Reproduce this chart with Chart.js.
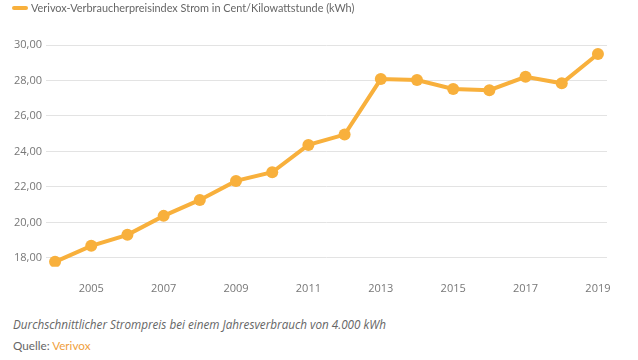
<!DOCTYPE html>
<html>
<head>
<meta charset="utf-8">
<script src="https://cdn.jsdelivr.net/npm/chart.js@4"></script>
<style>
  body { margin: 0; background: #fff; font-family: "Open Sans", sans-serif; }
  #wrap { position: absolute; left: 0; top: 0; width: 638px; height: 302px; }
  #legend { position: absolute; left: 12px; top: 1px; font-family: Lato, sans-serif; font-size: 10.9px; color: #666; white-space: nowrap; }
  #legend i { display: inline-block; width: 16px; height: 4px; border-radius: 2px; background: #f8b03c; vertical-align: middle; margin-right: 3px; position: relative; top: -1px; }
  .note { position: absolute; left: 13px; font-size: 11.7px; color: #666; white-space: nowrap; }
  #caption { top: 316px; font-style: italic; }
  #source { top: 338px; font-family: Lato, sans-serif; font-size: 11.7px; }
  #source span { color: #f0a040; }
</style>
</head>
<body>
<div id="wrap"><canvas id="myChart"></canvas></div>
<div id="legend"><i></i><span id="legendText"></span></div>
<div class="note" id="caption">Durchschnittlicher Strompreis bei einem Jahresverbrauch von 4.000 kWh</div>
<div class="note" id="source">Quelle: <span>Verivox</span></div>
<script>
// Strompreis in Cent/kWh, 2004 - 2019
var years = [2004, 2005, 2006, 2007, 2008, 2009, 2010, 2011, 2012, 2013, 2014, 2015, 2016, 2017, 2018, 2019];
var prices = [17.78, 18.68, 19.30, 20.37, 21.27, 22.34, 22.83, 24.37, 24.95, 28.08, 28.03, 27.52, 27.45, 28.21, 27.84, 29.49];
var xTickYears = [2005, 2007, 2009, 2011, 2013, 2015, 2017, 2019];
var yTicks = [18, 20, 22, 24, 26, 28, 30];
var seriesName = "Verivox-Verbraucherpreisindex Strom in Cent/Kilowattstunde (kWh)";

var orange = '#f8b03c';

document.getElementById('legendText').textContent = seriesName;

var points = [];
for (var i = 0; i < years.length; i++) {
    points.push({ x: years[i], y: prices[i] });
}

var ctx = document.getElementById('myChart').getContext('2d');
var myChart = new Chart(ctx, {
    type: 'line',
    data: {
        datasets: [{
            label: seriesName,
            data: points,
            borderColor: orange,
            backgroundColor: orange,
            borderWidth: 4,
            pointRadius: 6,
            pointHoverRadius: 6,
            pointBorderWidth: 0,
            tension: 0
        }]
    },
    options: {
        responsive: true,
        maintainAspectRatio: false,
        animation: false,
        layout: { padding: { left: 0, right: 31, top: 45, bottom: 0 } },
        plugins: {
            legend: { display: false },
            tooltip: { enabled: false }
        },
        scales: {
            x: {
                type: 'linear',
                min: 2003.75,
                max: 2019.25,
                grid: { display: false },
                border: { display: false },
                afterBuildTicks: function (scale) {
                    scale.ticks = xTickYears.map(function (v) { return { value: v }; });
                },
                ticks: {
                    autoSkip: false,
                    maxRotation: 0,
                    color: '#777',
                    font: { family: 'Open Sans', size: 11 },
                    padding: 7,
                    callback: function (value) { return String(value); }
                }
            },
            y: {
                min: 17.5,
                max: 30,
                border: { display: false },
                grid: { color: '#e3e3e3', drawTicks: false, lineWidth: 1 },
                afterBuildTicks: function (scale) {
                    scale.ticks = yTicks.map(function (v) { return { value: v }; });
                },
                afterFit: function (scale) { scale.width = 46; },
                ticks: {
                    color: '#777',
                    padding: 4,
                    font: { family: 'Open Sans', size: 11 },
                    callback: function (value) { return value.toFixed(2).replace('.', ','); }
                }
            }
        }
    }
});
</script>
</body>
</html>
